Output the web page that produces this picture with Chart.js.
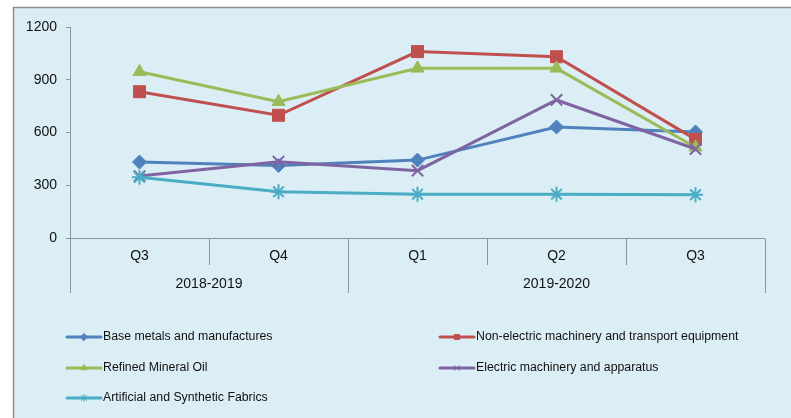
<!DOCTYPE html>
<html>
<head>
<meta charset="utf-8">
<script src="https://cdn.jsdelivr.net/npm/chart.js@4"></script>
<style>
  html, body { margin: 0; padding: 0; background: #ffffff; }
  #wrap { width: 791px; height: 418px; }
</style>
</head>
<body>
<div id="wrap"><canvas id="c" width="791" height="418"></canvas></div>
<script>
// Quarterly import values by commodity group
const quarters = ['Q3', 'Q4', 'Q1', 'Q2', 'Q3'];
const fiscalYears = ['2018-2019', '2019-2020'];
const yearSpan = [2, 3]; // number of quarters under each fiscal year
const yTicks = [0, 300, 600, 900, 1200];

const seriesNames = [
  'Base metals and manufactures',
  'Non-electric machinery and transport equipment',
  'Refined Mineral Oil',
  'Electric machinery and apparatus',
  'Artificial and Synthetic Fabrics'
];
const baseMetals      = [432, 412, 443, 631, 603];
const nonElectric     = [832, 698, 1060, 1031, 561];
const refinedOil      = [945, 775, 965, 965, 516];
const electricMach    = [352, 434, 383, 785, 506];
const syntheticFabric = [345, 263, 249, 249, 246];

const colors  = ['#4F81BD', '#C0504D', '#9BBB59', '#8064A2', '#4BACC6'];
const markers = ['rectRot', 'rect', 'triangle', 'crossRot', 'star'];
const radii   = [7, 8.5, 7.5, 8, 7.5];
const values  = [baseMetals, nonElectric, refinedOil, electricMach, syntheticFabric];

const FONT = '"Liberation Sans", Arial, sans-serif';
const AXIS_GRAY = '#8f969a';
const TEXT = '#111111';

// Panel background with the grey frame on the left and top
const panelBg = {
  id: 'panelBg',
  beforeDraw(chart) {
    const ctx = chart.ctx;
    ctx.save();
    ctx.fillStyle = '#ffffff';
    ctx.fillRect(0, 0, chart.width, chart.height);
    ctx.fillStyle = '#DCEEF5';
    ctx.fillRect(13, 7, chart.width - 13, chart.height - 7);
    ctx.strokeStyle = '#8c8c8c';
    ctx.lineWidth = 1.5;
    ctx.beginPath();
    ctx.moveTo(13.5, chart.height);
    ctx.lineTo(13.5, 7.5);
    ctx.lineTo(chart.width, 7.5);
    ctx.stroke();
    ctx.restore();
  }
};

// Two-level category axis: quarters above, fiscal years below
const groupedAxis = {
  id: 'groupedAxis',
  afterDraw(chart) {
    const ctx = chart.ctx;
    const x = chart.scales.x;
    const area = chart.chartArea;
    const n = quarters.length;
    const bounds = [];
    for (let i = 0; i <= n; i++) {
      if (i === 0) bounds.push(area.left);
      else if (i === n) bounds.push(area.right);
      else bounds.push((x.getPixelForValue(i - 1) + x.getPixelForValue(i)) / 2);
    }
    const groupEdges = [0];
    yearSpan.forEach(s => groupEdges.push(groupEdges[groupEdges.length - 1] + s));

    ctx.save();
    ctx.strokeStyle = AXIS_GRAY;
    ctx.lineWidth = 1;
    ctx.beginPath();
    const y0 = Math.round(area.bottom) + 0.5;
    ctx.moveTo(area.left, y0);
    ctx.lineTo(area.right, y0);
    bounds.forEach((bx, i) => {
      const px = Math.round(bx) + 0.5;
      const long = groupEdges.includes(i);
      ctx.moveTo(px, y0);
      ctx.lineTo(px, long ? area.bottom + 55 : area.bottom + 27);
    });
    ctx.stroke();

    ctx.fillStyle = TEXT;
    ctx.font = '14px ' + FONT;
    ctx.textAlign = 'center';
    ctx.textBaseline = 'middle';
    quarters.forEach((q, i) => {
      ctx.fillText(q, x.getPixelForValue(i), area.bottom + 18);
    });
    fiscalYears.forEach((yr, g) => {
      const cx = (bounds[groupEdges[g]] + bounds[groupEdges[g + 1]]) / 2;
      ctx.fillText(yr, cx, area.bottom + 46);
    });
    ctx.restore();
  }
};

// Legend in two columns below the plot
const gridLegend = {
  id: 'gridLegend',
  afterDraw(chart) {
    const ctx = chart.ctx;
    const colX = [67, 440];
    const rowY = [337, 368, 398];
    ctx.save();
    ctx.font = '12.3px ' + FONT;
    ctx.textBaseline = 'middle';
    ctx.textAlign = 'left';
    chart.data.datasets.forEach((ds, i) => {
      const lx = colX[i % 2];
      const ly = rowY[Math.floor(i / 2)];
      ctx.strokeStyle = ds.borderColor;
      ctx.fillStyle = ds.borderColor;
      ctx.lineWidth = 3;
      ctx.lineCap = 'round';
      ctx.beginPath();
      ctx.moveTo(lx, ly);
      ctx.lineTo(lx + 34, ly);
      ctx.stroke();
      ctx.lineWidth = 1;
      Chart.helpers.drawPoint(ctx, {
        pointStyle: ds.pointStyle,
        radius: 3.5,
        borderWidth: 1,
        rotation: 0
      }, lx + 17, ly);
      ctx.fillStyle = TEXT;
      ctx.fillText(ds.label, lx + 36, ly);
    });
    ctx.restore();
  }
};

const datasets = seriesNames.map((name, i) => ({
  label: name,
  data: values[i],
  borderColor: colors[i],
  backgroundColor: colors[i],
  pointBackgroundColor: colors[i],
  pointBorderColor: colors[i],
  pointStyle: markers[i],
  pointRadius: radii[i],
  pointBorderWidth: (markers[i] === 'crossRot' || markers[i] === 'star') ? 2 : 1,
  borderWidth: 3,
  tension: 0,
  order: seriesNames.length - i
}));

new Chart(document.getElementById('c'), {
  type: 'line',
  data: { labels: quarters, datasets },
  options: {
    responsive: false,
    animation: false,
    devicePixelRatio: 1,
    layout: { padding: { left: 13, top: 27, right: 26, bottom: 180 } },
    plugins: {
      legend: { display: false },
      tooltip: { enabled: false }
    },
    scales: {
      x: {
        display: false,
        offset: true
      },
      y: {
        min: 0,
        max: 1200,
        afterFit(scale) { scale.width = 57; },
        afterBuildTicks(scale) { scale.ticks = yTicks.map(v => ({ value: v })); },
        grid: { drawOnChartArea: false, drawTicks: true, tickLength: 4, color: AXIS_GRAY },
        border: { display: true, color: AXIS_GRAY, width: 1 },
        ticks: {
          padding: 9,
          color: TEXT,
          font: { family: FONT, size: 14 },
          callback: v => String(v)
        }
      }
    }
  },
  plugins: [panelBg, groupedAxis, gridLegend]
});
</script>
</body>
</html>
